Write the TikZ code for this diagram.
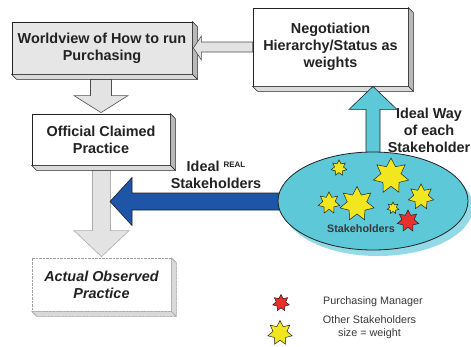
\documentclass[tikz,border=0pt]{standalone}
\usepackage{fontspec}
\setmainfont{Liberation Sans}
\usetikzlibrary{shapes.geometric,calc}

\definecolor{boxgray}{HTML}{E6E6E6}
\definecolor{arrowgray}{HTML}{E3E3E3}
\definecolor{skycyan}{HTML}{5CC8D8}
\definecolor{skyshadow}{HTML}{93DAE6}
\definecolor{deepblue}{HTML}{1F55A6}
\definecolor{staryellow}{HTML}{F2E61E}
\definecolor{starred}{HTML}{E8302C}
\definecolor{ink}{HTML}{222222}

% side and bottom faces that give a box its depth
\newcommand\boxdepth[2][]{%
  \filldraw[line width=0.5pt, draw=ink, fill=gray!55, #1]
    (#2.north east) -- ++(5,5) -- ($(#2.south east)+(5,5)$) -- (#2.south east) -- cycle;
  \filldraw[line width=0.5pt, draw=ink, fill=gray!28, #1]
    (#2.south west) -- ++(5,5) -- ($(#2.south east)+(5,5)$) -- (#2.south east) -- cycle;}

\tikzset{
  panel/.style={draw=ink, line width=0.8pt, align=center, inner sep=2pt,
    text=ink, font=\bfseries\fontsize{14.4}{17}\selectfont},
  label/.style={align=center, text=ink, inner sep=0pt,
    font=\bfseries\fontsize{14.4}{17}\selectfont},
  legendtext/.style={align=center, text=ink!90, inner sep=0pt,
    font=\fontsize{10.8}{12.5}\selectfont},
  grayarrow/.style={fill=arrowgray, draw=ink!80, line width=0.6pt, line join=miter},
  stargon/.style={star, star points=7, star point ratio=1.75, inner sep=0pt,
    draw=ink, line width=0.5pt},
  faintline/.style={draw=gray!75, line width=0.7pt, dash pattern=on 1pt off 0.4pt},
}

\begin{document}
\begin{tikzpicture}[x=1pt, y=-1pt]
\useasboundingbox (0,0) rectangle (471,346);
\clip (0,0) rectangle (471,346);

% boxes
\node[panel, fill=boxgray, minimum width=180, minimum height=52] (wv) at (102,48)
  {Worldview of How to run\\Purchasing};
\node[panel, fill=white, minimum width=155, minimum height=78] (neg) at (330.5,47)
  {Negotiation\\Hierarchy/Status as\\weights};
\node[panel, fill=white, minimum width=138, minimum height=51] (ocp) at (101,139.5)
  {Official Claimed\\Practice};
\node[panel, fill=white, faintline, minimum width=139, minimum height=53,
  font=\bfseries\itshape\fontsize{14.4}{17}\selectfont] (aop) at (101.5,284.5)
  {Actual Observed\\Practice};

% hollow arrows down the left column
\path[grayarrow] let \p1=(wv.south), \p2=(ocp.north) in
  (\x2-10.5pt,\y1-5pt) -- (\x2-10.5pt,\y2+18pt) -- (\x2-27pt,\y2+18pt) -- (\x2,\y2+1pt)
  -- (\x2+27pt,\y2+18pt) -- (\x2+10.5pt,\y2+18pt) -- (\x2+10.5pt,\y1-5pt) -- cycle;
\path[grayarrow, draw=gray!65] let \p1=(ocp.south), \p2=(aop.north) in
  (\x2-9pt,\y1-5pt) -- (\x2-9pt,\y2+27pt) -- (\x2-27.5pt,\y2+27pt) -- (\x2,\y2+1pt)
  -- (\x2+27.5pt,\y2+27pt) -- (\x2+9pt,\y2+27pt) -- (\x2+9pt,\y1-5pt) -- cycle;

\boxdepth{wv}
\boxdepth{neg}
\boxdepth{ocp}
\boxdepth[faintline, fill=gray!30]{aop}

% hollow arrow from the negotiation box to the worldview box
\path[grayarrow] let \p1=(neg.west), \p2=(wv.east) in
  (\x1,\y1+5pt) -- (\x2+9pt,\y1+5pt) -- (\x2+9pt,\y2+12pt) -- (\x2+1pt,\y2)
  -- (\x2+9pt,\y2-12pt) -- (\x2+9pt,\y1-5pt) -- (\x1,\y1-5pt) -- cycle;

% stakeholder pool
\coordinate (pool) at (373,201);
\coordinate (bluetip) at (110,201.5);

% arrow of the real stakeholders
\path[fill=deepblue, draw=ink, line width=0.6pt] let \p1=(pool), \p2=(bluetip) in
  (\x1,\y2+8.5pt) -- (\x2+22pt,\y2+8.5pt) -- (\x2+22pt,\y2+24pt) -- (\x2,\y2)
  -- (\x2+22pt,\y2-24pt) -- (\x2+22pt,\y2-8.5pt) -- (\x1,\y2-8.5pt) -- cycle;

% arrow of each stakeholder's ideal way
\path[fill=skycyan, draw=ink, line width=0.6pt] let \p1=(pool), \p2=(neg.south) in
  (\x1-7pt,\y1) -- (\x1-7pt,\y2-23pt) -- (\x1-24pt,\y2-23pt) -- (\x1,\y2)
  -- (\x1+24pt,\y2-23pt) -- (\x1+7pt,\y2-23pt) -- (\x1+7pt,\y1) -- cycle;

\node[ellipse, fill=skyshadow, minimum width=190, minimum height=98, inner sep=0pt]
  (poolshadow) at ($(pool)+(5,6)$) {};
\node[ellipse, fill=skycyan, draw=ink, line width=0.8pt, minimum width=190,
  minimum height=98, inner sep=0pt] (ell) at (pool) {};

% stakeholders, sized by weight
\node[stargon, fill=staryellow, minimum size=16] (s1) at (339,168) {};
\node[stargon, fill=staryellow, minimum size=36] (s2) at (391,176) {};
\node[stargon, fill=staryellow, minimum size=26] (s3) at (421,197) {};
\node[stargon, fill=staryellow, minimum size=22] (s4) at (329,203) {};
\node[stargon, fill=staryellow, minimum size=35] (s5) at (357,204) {};
\node[stargon, fill=staryellow, minimum size=12] (s6) at (393,208) {};
\node[stargon, fill=starred, minimum size=22] (pm) at (408,221) {};
\node[text=ink!90, font=\bfseries\fontsize{10.8}{12}\selectfont, inner sep=0pt]
  (pooltext) at (361,229) {Stakeholders};

% labels
\node[label] (ideallabel) at (216,175)
  {Ideal \raisebox{4pt}{\fontsize{8}{8}\selectfont REAL}\\Stakeholders};
\node[label] (waylabel) at (429,130) {Ideal Way\\of each\\Stakeholder};

% legend
\node[stargon, fill=starred, minimum size=17] (legpm) at (281,303) {};
\node[stargon, fill=staryellow, minimum size=25] (legother) at (280,333) {};
\node[legendtext, anchor=west] (legpmtext) at (323,302) {Purchasing Manager};
\node[legendtext] (legothertext) at (369.5,327) {Other Stakeholders\\size = weight};
\end{tikzpicture}
\end{document}
